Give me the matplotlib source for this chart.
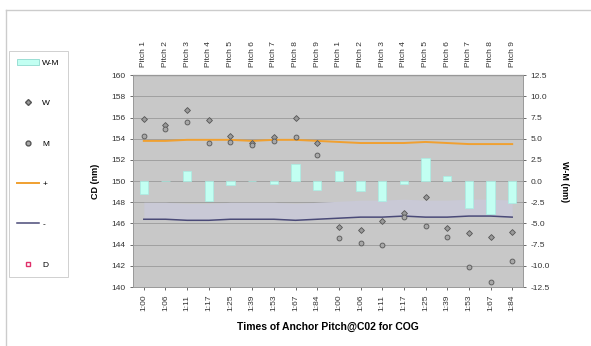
import numpy as np
import matplotlib
matplotlib.use("Agg")
import matplotlib.pyplot as plt
from matplotlib.lines import Line2D
from matplotlib.patches import Patch

plt.rcParams['font.family'] = ['Liberation Sans', 'DejaVu Sans']

# ---------- DATA ----------
times = ['1:00', '1:06', '1:11', '1:17', '1:25', '1:39', '1:53', '1:67', '1:84'] * 2
pitches = ['Pitch %d' % i for i in range(1, 10)] * 2

w_vals = [155.9, 155.3, 156.7, 155.8, 154.3, 153.6, 154.2, 156.0, 153.6,
          145.7, 145.4, 146.2, 147.0, 148.5, 145.6, 145.1, 144.7, 145.2]
m_vals = [154.3, 154.9, 155.6, 153.6, 153.7, 153.4, 153.8, 154.2, 152.5,
          144.6, 144.2, 144.0, 146.6, 145.8, 144.7, 141.9, 140.5, 142.5]
wm_vals = [-1.5, 0.0, 1.2, -2.4, -0.4, 0.0, -0.3, 2.0, -1.0,
           1.2, -1.2, -2.4, -0.3, 2.7, 0.6, -3.2, -3.9, -2.6]
upper_vals = [153.8, 153.8, 153.9, 153.9, 153.9, 153.8, 153.9, 153.9, 153.8,
              153.7, 153.6, 153.6, 153.6, 153.7, 153.6, 153.5, 153.5, 153.5]
lower_vals = [146.4, 146.4, 146.3, 146.3, 146.4, 146.4, 146.4, 146.3, 146.4,
              146.5, 146.6, 146.6, 146.7, 146.6, 146.6, 146.7, 146.7, 146.6]
# ---------------------------

x = np.arange(len(times))

fig = plt.figure(figsize=(5.91, 3.46), dpi=100)
ax = fig.add_axes([0.225, 0.1705, 0.66, 0.612])
ax.set_facecolor('#c8c8c8')

ax.set_ylim(140, 160)
ax.set_yticks(np.arange(140, 161, 2))
ax.set_xlim(-0.5, len(times) - 0.5)
ax.grid(axis='y', color='#9a9a9a', linewidth=0.6)
ax.set_axisbelow(True)
# faint band just above the lower line
ax.fill_between(x, lower_vals, np.array(lower_vals) + 1.6, color='#c9c9d6', lw=0, zorder=1)

# right axis for W-M bars
ax2 = ax.twinx()
ax2.set_ylim(-12.5, 12.5)
ax2.set_yticks(np.arange(-12.5, 12.6, 2.5))
ax2.set_yticklabels(['%.1f' % v for v in np.arange(-12.5, 12.6, 2.5)])
ax2.bar(x, wm_vals, width=0.38, color='#c2fff2', edgecolor='#a8eee4', linewidth=0.5, zorder=2)

# lines and points on left axis (drawn on top)
ax3 = ax.twinx()
ax3.set_ylim(140, 160)
ax3.axis('off')
ax3.plot(x, upper_vals, color='#f0a030', lw=1.4, zorder=3)
ax3.plot(x, lower_vals, color='#4a4a78', lw=1.1, zorder=3)
ax3.plot(x, w_vals, 'D', ms=3, mfc='#9a9a9a', mec='#555555', mew=0.6, ls='none', zorder=4)
ax3.plot(x, m_vals, 'o', ms=3.5, mfc='#a8a8a8', mec='#555555', mew=0.6, ls='none', zorder=4)

for a in (ax, ax2):
    a.tick_params(labelsize=6, colors='#333333', length=2, width=0.5)
    for s in a.spines.values():
        s.set_color('#999999')
        s.set_linewidth(0.6)

ax.set_xticks(x)
ax.set_xticklabels(times, rotation=90, fontsize=6)
ax.set_ylabel('CD (nm)', fontsize=6.5, fontweight='bold', labelpad=8)
ax2.set_ylabel('W-M (nm)', fontsize=6.5, fontweight='bold', rotation=270, labelpad=14)
ax.set_xlabel('Times of Anchor Pitch@C02 for COG', fontsize=7.5, fontweight='bold', labelpad=8)

top = ax.secondary_xaxis('top')
top.set_xticks(x)
top.set_xticklabels(pitches, rotation=90, fontsize=6)
top.tick_params(length=0, pad=6, colors='#333333')

# legend on the left
handles = [
    Patch(facecolor='#c2fff2', edgecolor='#8fd9cf', linewidth=0.6),
    Line2D([], [], marker='D', ms=3, mfc='#9a9a9a', mec='#555555', ls='none'),
    Line2D([], [], marker='o', ms=3.5, mfc='#a8a8a8', mec='#555555', ls='none'),
    Line2D([], [], color='#f0a030', lw=1.4),
    Line2D([], [], color='#4a4a78', lw=1.1),
    Line2D([], [], marker='s', ms=3, mfc='white', mec='#e0306a', ls='none'),
]
labels = ['W-M', 'W', 'M', '+', '-', 'D']
leg = fig.legend(handles, labels, loc='upper left', bbox_to_anchor=(0.008, 0.865),
                 fontsize=6, labelspacing=3.9, handlelength=2.6, handletextpad=0.4,
                 borderpad=1.0, fancybox=False, frameon=True)
leg.get_frame().set_edgecolor('#bbbbbb')
leg.get_frame().set_linewidth(0.6)

# outer frame lines
fig.add_artist(Line2D([0.01, 1.0], [0.972, 0.972], color='#cccccc', lw=1.0, transform=fig.transFigure))
fig.add_artist(Line2D([0.01, 0.01], [0.0, 0.972], color='#cccccc', lw=1.0, transform=fig.transFigure))

fig.savefig('out.png', dpi=100)
